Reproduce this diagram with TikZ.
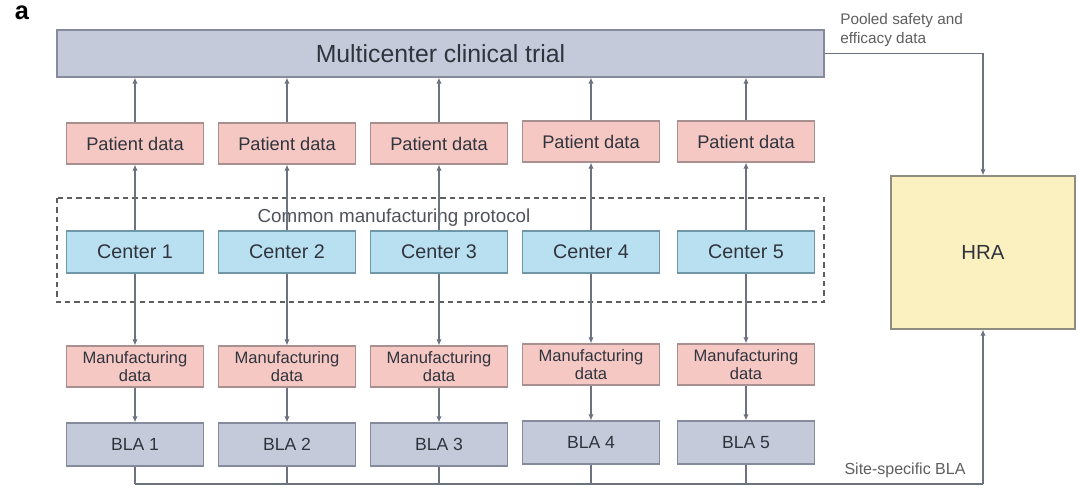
\documentclass[tikz,border=0pt]{standalone}
\usepackage{fontspec}
\setmainfont{Liberation Sans}
\usetikzlibrary{arrows.meta}

\definecolor{slatefill}{HTML}{C4CAD9}
\definecolor{slateedge}{HTML}{858B9C}
\definecolor{pinkfill}{HTML}{F5C8C4}
\definecolor{pinkedge}{HTML}{A89090}
\definecolor{bluefill}{HTML}{B9E0F1}
\definecolor{blueedge}{HTML}{6F97A8}
\definecolor{yellowfill}{HTML}{FBF0BF}
\definecolor{yellowedge}{HTML}{8F8D80}
\definecolor{wire}{HTML}{6D7280}
\definecolor{ink}{HTML}{30343D}
\definecolor{note}{HTML}{5E5E5E}

\begin{document}
\begin{tikzpicture}[x=0.75pt,y=-0.75pt,
  box/.style={draw, line width=0.9pt, inner sep=0pt, text=ink, align=center},
  colbox/.style={box, minimum width=102.75pt},
  trialbox/.style={box, fill=slatefill, draw=slateedge,
    font=\fontsize{18.6pt}{22pt}\selectfont},
  patientbox/.style={colbox, fill=pinkfill, draw=pinkedge, minimum height=30.75pt,
    font=\fontsize{13.7pt}{16pt}\selectfont},
  centerbox/.style={colbox, fill=bluefill, draw=blueedge, minimum height=31.5pt,
    font=\fontsize{14.8pt}{17pt}\selectfont},
  mfgbox/.style={colbox, fill=pinkfill, draw=pinkedge, minimum height=30.75pt,
    font=\fontsize{12.4pt}{13.5pt}\selectfont},
  blabox/.style={colbox, fill=slatefill, draw=slateedge, minimum height=32.25pt,
    font=\fontsize{13.2pt}{15pt}\selectfont},
  hrabox/.style={box, fill=yellowfill, draw=yellowedge,
    minimum width=138pt, minimum height=114.75pt,
    font=\fontsize{15.3pt}{18pt}\selectfont},
  wireline/.style={draw=wire, line width=1pt},
  flow/.style={wireline, -{Latex[length=4.5pt,width=4pt]}},
  note/.style={text=note, inner sep=0pt}
]
\useasboundingbox (0,0) rectangle (1079,487);

% panel letter
\node[font=\bfseries\fontsize{19pt}{20pt}\selectfont, text=black] (panel) at (22,13) {a};

% top trial box and the shared protocol frame
\node[trialbox, minimum width=575.25pt, minimum height=35.25pt] (trial) at (440.5,53.5)
  {Multicenter clinical trial};
\draw[draw=note, line width=0.8pt, dash pattern=on 4pt off 3pt]
  (57,198) rectangle (824,302);
\node[note, text=ink!85, font=\fontsize{14.1pt}{16pt}\selectfont] (protocol) at (394,218)
  {Common manufacturing protocol};

% the five centres, each with its own data and licence application
\foreach \i/\x/\d in {1/135/0, 2/287/0, 3/439/0, 4/591/-2, 5/746/-2} {
  \node[patientbox] (pat\i) at (\x,143.5+\d) {Patient data};
  \node[centerbox]  (cen\i) at (\x,252) {Center \i};
  \node[mfgbox]     (mfg\i) at (\x,366.5+\d) {Manufacturing\\data};
  \node[blabox]     (bla\i) at (\x,444.5+\d) {BLA \i};
}

% health regulatory authority
\node[hrabox] (hra) at (983,252.5) {HRA};

% bus along the bottom
\coordinate (busend) at (983,484);

\foreach \i in {1,...,5} {
  \draw[flow] (pat\i.north) -- (pat\i.north |- trial.south);
  \draw[flow] (cen\i.north) -- (pat\i.south);
  \draw[flow] (cen\i.south) -- (mfg\i.north);
  \draw[flow] (mfg\i.south) -- (bla\i.north);
  \draw[wireline] (bla\i.south) -- (bla\i.south |- busend);
}
\draw[wireline] (bla1.south |- busend) -- (busend);
\draw[flow] (busend) -- (hra.south);
\draw[flow] (trial.east) -| (hra.north);

% connector labels
\node[note, anchor=north west, align=left, font=\fontsize{11.5pt}{14pt}\selectfont]
  (pooled) at (840,13) {Pooled safety and\\efficacy data};
\node[note, font=\fontsize{12pt}{14pt}\selectfont] (sitebla) at (905,470)
  {Site-specific BLA};
\end{tikzpicture}
\end{document}
